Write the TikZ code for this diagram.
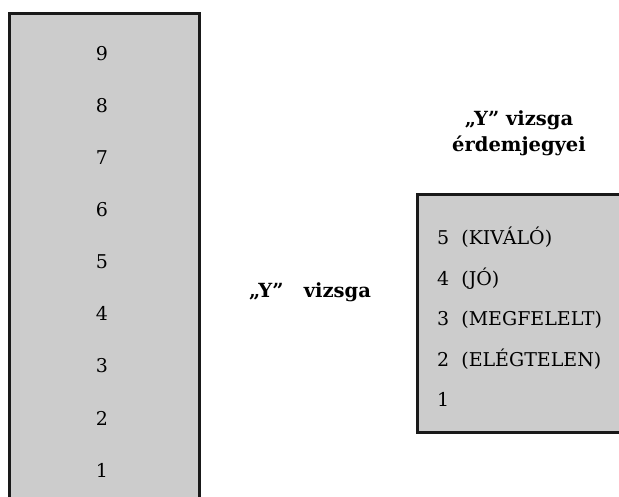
\documentclass[tikz,border=0pt]{standalone}
\usepackage{fontspec}
\setmainfont{DejaVu Serif}
\usetikzlibrary{positioning}

\begin{document}
\begin{tikzpicture}[x=1pt,y=1pt,node distance=52pt,on grid,
    font=\fontsize{19}{23}\selectfont,
    box/.style={draw=black!90,line width=3pt,fill=black!20,inner sep=0pt},
    szam/.style={anchor=base,inner sep=0pt},
    jegy/.style={anchor=base west,inner sep=0pt},
    cim/.style={font=\fontsize{19.5}{26}\selectfont\bfseries,align=center,inner sep=0pt}]
  \useasboundingbox (0,0) rectangle (619,496);
  % left scale
  \node[box,anchor=north west,minimum width=190.5pt,minimum height=495pt] (skala) at (7.5,483.5) {};
  \node[szam] (s9) at (102,435) {9};
  \foreach \a/\b in {9/8,8/7,7/6,6/5,5/4,4/3,3/2,2/1}
    \node[szam] (s\b) [below=of s\a.base,szam] {\b};
  % middle label
  \node[cim] (vizsga) at (310,204) {„Y”~~~vizsga};
  % right box with the grades
  \node[cim,anchor=base] (cim) at (519,344) {„Y” vizsga\\érdemjegyei};
  \node[box,anchor=north west,minimum width=215pt,minimum height=237pt] (jegyek) at (415.5,302.5) {};
  \node[jegy] (j5) at (437,251) {5~~(KIVÁLÓ)};
  \node[jegy] (j4) [below=40.4pt of j5.base west,jegy] {4~~(JÓ)};
  \node[jegy] (j3) [below=40.4pt of j4.base west,jegy] {3~~(MEGFELELT)};
  \node[jegy] (j2) [below=40.4pt of j3.base west,jegy] {2~~(ELÉGTELEN)};
  \node[jegy] (j1) [below=40.4pt of j2.base west,jegy] {1};
\end{tikzpicture}
\end{document}
